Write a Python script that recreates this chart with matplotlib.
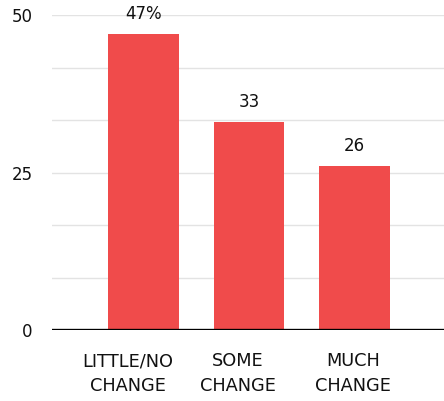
import matplotlib
matplotlib.use("Agg")
import matplotlib.pyplot as plt
from matplotlib.transforms import ScaledTranslation

categories = ["LITTLE/NO\nCHANGE", "SOME\nCHANGE", "MUCH\nCHANGE"]
values = [47, 33, 26]
value_labels = ["47%", "33", "26"]
ytick_values = [0, 25, 50]
grid_values = [50 * i / 6 for i in range(1, 7)]

bar_color = "#F04B4B"
font = {"family": "DejaVu Sans"}

fig = plt.figure(figsize=(4.44, 4.01), dpi=100)
ax = fig.add_axes([52 / 444, 71 / 401, 1 - 52 / 444, (330 - 15) / 401])

x = list(range(len(categories)))
bars = ax.bar(x, values, width=0.67, color=bar_color, zorder=2)

for g in grid_values:
    ax.axhline(g, color="#e3e3e3", linewidth=1.0, zorder=1)
ax.axhline(0, color="black", linewidth=2.4, zorder=3)

for rect, lab in zip(bars, value_labels):
    ax.annotate(lab, (rect.get_x() + rect.get_width() / 2, rect.get_height()),
                xytext=(0, 8), textcoords="offset points",
                ha="center", va="bottom", fontsize=12, color="#111111",
                annotation_clip=False, **font)

ax.set_xlim(-0.87, 2.85)
ax.set_ylim(0, 50)
ax.set_yticks(ytick_values)
ax.set_yticklabels([str(v) for v in ytick_values], fontsize=12, color="#111111", **font)
ax.set_xticks(x)
ax.set_xticklabels(categories, fontsize=12.8, color="#111111", linespacing=1.45, **font)
ax.tick_params(axis="y", length=0, pad=14)
ax.tick_params(axis="x", length=0, pad=16)

for lab, dx in zip(ax.get_xticklabels(), [-16, -11, -1]):
    lab.set_transform(lab.get_transform() + ScaledTranslation(dx / 100, 0, fig.dpi_scale_trans))

for s in ax.spines.values():
    s.set_visible(False)

fig.savefig("out.png", dpi=100)
